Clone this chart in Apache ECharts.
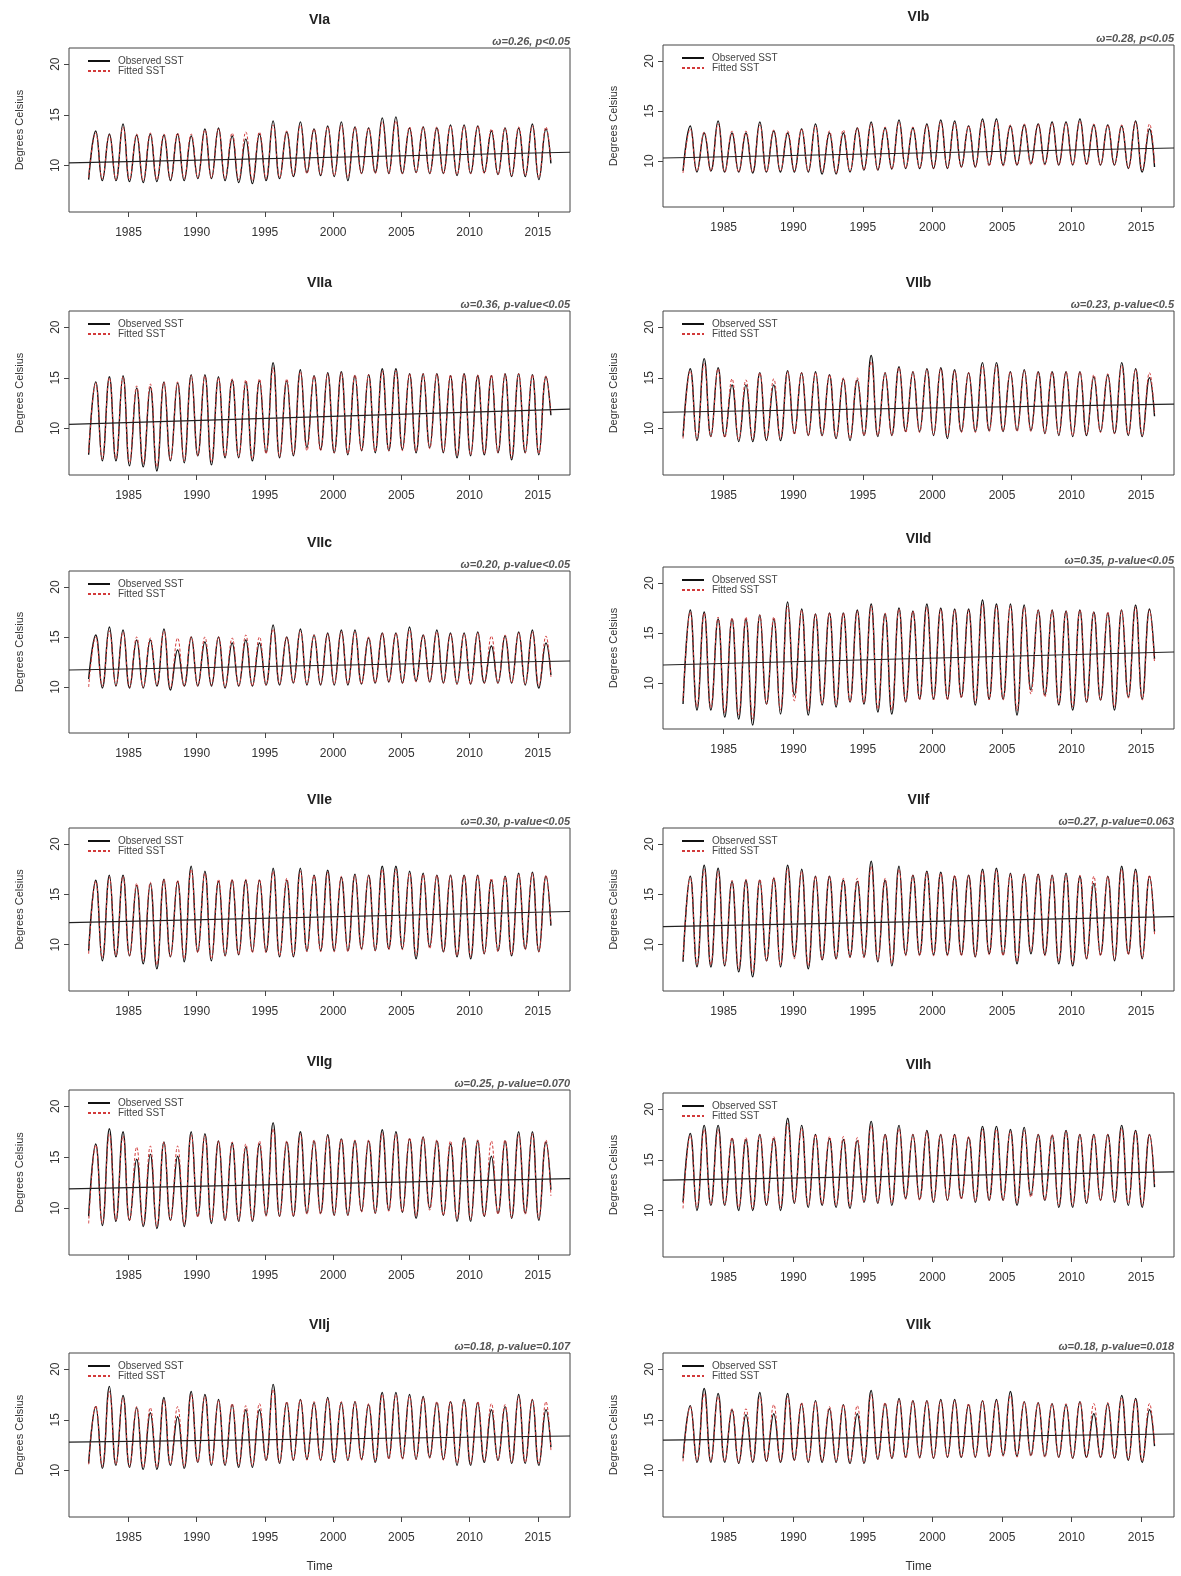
<!DOCTYPE html>
<html><head><meta charset="utf-8">
<script src="https://cdn.jsdelivr.net/npm/echarts@6/dist/echarts.min.js"></script>
<style>html,body{margin:0;padding:0;background:#fff}#c{width:1181px;height:1576px}</style>
</head><body><div id="c"></div>
<script>
// ---------- DATA ----------
const years = [1982,1983,1984,1985,1986,1987,1988,1989,1990,1991,1992,1993,1994,1995,1996,1997,1998,1999,2000,2001,2002,2003,2004,2005,2006,2007,2008,2009,2010,2011,2012,2013,2014,2015];
const xTickValues = [1985,1990,1995,2000,2005,2010,2015];
const yTickValues = [10,15,20];
const panelNames = ['VIa','VIb','VIIa','VIIb','VIIc','VIId','VIIe','VIIf','VIIg','VIIh','VIIj','VIIk'];
const annotations = ['ω=0.26, p<0.05','ω=0.28, p<0.05','ω=0.36, p-value<0.05','ω=0.23, p-value<0.5','ω=0.20, p-value<0.05','ω=0.35, p-value<0.05','ω=0.30, p-value<0.05','ω=0.27, p-value=0.063','ω=0.25, p-value=0.070','','ω=0.18, p-value=0.107','ω=0.18, p-value=0.018'];

// summer peaks / winter troughs per year, observed and fitted
const obsPeak_VIa = [13.4,13.1,14.1,13.0,13.1,13.0,13.1,12.9,13.6,13.7,12.9,12.6,13.1,14.4,13.3,14.3,13.6,13.9,14.3,13.8,13.7,14.7,14.8,13.7,13.8,13.7,14.0,14.0,13.9,13.4,13.7,13.7,14.1,13.6];
const obsTrough_VIa = [8.6,8.5,8.5,8.4,8.3,8.4,8.5,8.5,8.7,8.7,8.5,8.3,8.2,8.5,8.7,8.9,9.3,9.0,8.9,8.5,9.2,9.3,9.2,9.2,9.3,9.2,9.2,9.0,9.2,9.3,9.1,8.9,8.9,8.6];
const fitPeak_VIa = [13.2,13.0,13.8,13.1,13.2,13.1,13.2,13.1,13.5,13.6,13.2,13.3,13.3,14.0,13.4,14.0,13.6,13.8,14.0,13.8,13.7,14.3,14.4,13.8,13.8,13.8,13.9,13.9,13.9,13.6,13.7,13.8,13.9,13.8];
const fitTrough_VIa = [8.8,8.7,8.6,8.6,8.5,8.6,8.6,8.7,8.8,8.8,8.7,8.6,8.5,8.7,8.8,9.0,9.2,9.1,9.0,8.8,9.2,9.2,9.2,9.2,9.3,9.2,9.2,9.1,9.2,9.2,9.1,9.0,9.0,8.8];

const obsPeak_VIb = [13.5,12.8,14.0,12.8,12.8,13.9,13.0,12.8,13.2,13.7,12.8,12.8,13.3,13.9,13.3,14.1,13.3,13.7,14.1,14.0,13.5,14.2,14.2,13.5,13.6,13.7,13.9,13.9,14.2,13.6,13.6,13.5,14.0,13.2];
const obsTrough_VIb = [9.0,8.9,9.0,8.9,8.9,8.8,8.9,8.9,8.9,8.9,8.7,8.7,8.9,9.1,9.1,9.2,9.25,9.25,9.25,9.25,9.4,9.4,9.6,9.6,9.6,9.75,9.7,9.6,9.6,9.7,9.6,9.6,9.25,8.9];
const fitPeak_VIb = [13.2,12.9,13.7,13.0,13.0,13.6,13.1,13.0,13.2,13.5,13.0,13.1,13.3,13.7,13.4,13.9,13.4,13.6,13.9,13.8,13.5,14.0,14.0,13.6,13.7,13.7,13.8,13.8,14.0,13.7,13.6,13.6,13.9,13.7];
const fitTrough_VIb = [8.8,9.0,9.0,8.9,8.9,8.9,8.9,9.0,9.0,9.0,8.9,8.8,9.0,9.1,9.1,9.2,9.3,9.3,9.3,9.3,9.4,9.4,9.5,9.5,9.6,9.6,9.6,9.6,9.6,9.6,9.6,9.6,9.3,9.1];

const obsPeak_VIIa = [14.6,15.1,15.2,14.0,14.1,14.6,14.5,15.3,15.3,15.1,14.8,14.6,14.7,16.5,14.7,15.8,15.2,15.5,15.6,15.2,15.3,15.9,15.9,15.4,15.4,15.4,15.2,15.4,15.2,15.2,15.4,15.4,15.3,15.1];
const obsTrough_VIIa = [7.4,6.8,6.8,6.3,6.2,5.8,6.8,6.6,7.3,6.4,7.1,7.1,6.8,7.6,7.1,7.3,8.1,7.9,7.6,7.4,7.8,7.6,7.8,7.9,7.6,8.1,7.6,7.1,7.3,7.4,7.6,6.9,7.6,7.4];
const fitPeak_VIIa = [14.5,15.0,15.1,14.2,14.4,14.6,14.6,15.2,15.2,15.0,14.9,14.8,14.9,16.0,14.9,15.6,15.2,15.4,15.5,15.3,15.3,15.7,15.7,15.4,15.4,15.4,15.3,15.4,15.3,15.3,15.4,15.4,15.3,15.2];
const fitTrough_VIIa = [7.6,7.0,7.0,6.6,6.5,6.2,6.9,6.8,7.3,6.7,7.2,7.2,7.0,7.5,7.2,7.4,7.8,7.8,7.6,7.5,7.8,7.7,7.8,7.8,7.7,8.0,7.7,7.3,7.4,7.5,7.6,7.1,7.6,7.5];

const obsPeak_VIIb = [15.9,16.9,16.0,14.3,14.3,15.5,14.3,15.7,15.5,15.6,15.3,14.9,14.8,17.2,15.5,16.1,15.6,15.9,16.0,15.8,15.5,16.5,16.5,15.6,15.8,15.6,15.6,15.6,15.6,15.1,15.3,16.5,15.9,15.0];
const obsTrough_VIIb = [9.2,8.8,9.2,9.2,8.7,8.7,8.8,8.8,9.5,9.3,9.3,9.0,8.8,9.3,9.2,9.3,9.7,9.7,9.3,9.0,9.7,9.7,9.8,9.7,9.8,9.8,9.5,9.3,9.2,9.3,9.7,9.5,9.3,9.2];
const fitPeak_VIIb = [15.7,16.4,15.9,14.9,14.8,15.5,14.9,15.6,15.5,15.5,15.3,15.0,15.0,16.6,15.5,16.0,15.6,15.8,15.9,15.7,15.5,16.2,16.2,15.6,15.7,15.6,15.6,15.6,15.6,15.3,15.4,16.2,15.8,15.5];
const fitTrough_VIIb = [9.0,9.0,9.2,9.1,8.9,8.9,8.9,9.0,9.4,9.3,9.3,9.1,9.0,9.3,9.3,9.3,9.6,9.6,9.4,9.2,9.6,9.6,9.7,9.7,9.7,9.7,9.5,9.4,9.3,9.4,9.6,9.5,9.4,9.3];

const obsPeak_VIIc = [15.2,16.0,15.7,14.7,14.7,15.8,13.7,15.0,14.5,15.0,14.4,14.7,14.4,16.2,15.0,15.8,15.2,15.4,15.7,15.7,14.9,15.4,15.4,16.0,15.2,15.7,15.4,15.4,15.5,14.1,15.1,15.5,15.7,14.4];
const obsTrough_VIIc = [10.8,9.9,10.1,9.9,9.9,10.1,9.7,10.1,10.1,10.1,9.9,10.1,10.1,10.2,10.2,10.4,10.2,10.2,10.2,10.2,10.3,10.4,10.5,10.4,10.6,10.5,10.4,10.3,10.3,10.4,10.4,10.4,10.2,9.9];
const fitPeak_VIIc = [15.0,15.6,15.5,15.0,14.9,15.6,14.9,15.0,15.0,15.0,14.9,15.2,15.0,15.8,15.0,15.6,15.2,15.3,15.5,15.5,15.0,15.4,15.4,15.7,15.2,15.5,15.3,15.3,15.4,15.1,15.2,15.4,15.5,15.1];
const fitTrough_VIIc = [10.0,10.1,10.2,10.0,10.0,10.2,9.9,10.1,10.1,10.2,10.0,10.1,10.1,10.2,10.3,10.4,10.3,10.3,10.3,10.3,10.3,10.4,10.5,10.4,10.5,10.5,10.4,10.3,10.3,10.4,10.4,10.4,10.3,10.1];

const obsPeak_VIId = [17.3,17.1,16.4,16.4,16.4,16.8,16.4,18.1,17.4,16.9,17.0,17.0,17.3,17.9,16.9,17.5,17.2,17.9,17.5,17.4,17.4,18.3,17.9,17.9,17.8,17.3,17.3,17.2,17.3,17.1,17.0,17.3,17.8,17.4];
const obsTrough_VIId = [7.9,7.3,7.3,6.6,6.4,5.8,7.9,6.9,8.8,6.8,7.8,7.6,8.1,7.9,7.1,6.9,8.1,8.4,8.4,8.4,8.6,7.8,8.4,8.4,6.8,9.3,8.8,7.8,7.3,8.1,8.3,7.3,8.6,8.4];
const fitPeak_VIId = [17.1,17.0,16.6,16.5,16.6,16.8,16.6,17.7,17.3,16.9,17.0,17.0,17.2,17.7,17.0,17.4,17.2,17.6,17.4,17.3,17.3,17.9,17.7,17.7,17.6,17.3,17.3,17.2,17.3,17.1,17.1,17.3,17.6,17.3];
const fitTrough_VIId = [8.2,7.6,7.5,7.0,6.8,6.4,7.9,7.3,8.2,7.2,7.9,7.8,8.1,8.0,7.4,7.3,8.1,8.3,8.3,8.3,8.5,8.0,8.3,8.3,7.2,8.9,8.6,7.9,7.6,8.1,8.3,7.6,8.5,8.3];

const obsPeak_VIIe = [16.4,16.9,16.9,15.9,16.1,16.5,16.3,17.8,17.3,16.3,16.4,16.4,16.4,17.6,16.4,17.6,16.9,17.4,16.7,17.0,16.9,17.8,17.8,17.3,17.1,16.9,16.9,16.9,16.9,16.4,16.8,17.1,17.2,16.8];
const obsTrough_VIIe = [9.4,8.4,8.8,8.9,8.1,7.6,8.8,8.3,9.3,8.4,8.9,9.0,9.3,9.3,8.8,8.8,9.4,9.4,9.4,9.4,9.6,9.4,9.6,9.6,8.6,9.8,9.3,8.8,8.6,9.1,9.4,8.9,9.6,9.3];
const fitPeak_VIIe = [16.3,16.7,16.8,16.1,16.2,16.5,16.4,17.5,17.1,16.5,16.5,16.5,16.5,17.3,16.6,17.3,16.9,17.2,16.8,16.9,16.9,17.5,17.5,17.1,17.0,16.9,16.9,16.9,16.9,16.6,16.8,17.0,17.1,16.9];
const fitTrough_VIIe = [9.1,8.7,8.9,8.9,8.4,8.0,8.8,8.6,9.2,8.6,8.9,9.0,9.2,9.2,8.9,8.9,9.3,9.3,9.3,9.3,9.5,9.4,9.5,9.5,8.9,9.6,9.3,8.9,8.8,9.1,9.3,9.0,9.5,9.3];

const obsPeak_VIIf = [16.8,17.9,17.6,16.3,16.4,16.4,16.6,17.9,17.5,16.8,16.8,16.4,16.3,18.3,16.4,17.8,16.9,17.3,17.2,16.8,16.9,17.5,17.6,17.1,17.0,17.0,16.9,17.1,16.8,16.1,16.8,17.8,17.5,16.8];
const obsTrough_VIIf = [8.3,7.8,7.8,7.9,7.3,6.8,8.4,7.8,8.8,7.6,8.5,8.6,8.8,8.8,8.3,7.9,9.0,9.0,9.0,9.0,9.0,8.8,9.1,9.0,8.1,9.1,9.0,8.1,7.9,8.6,9.0,8.4,9.1,8.6];
const fitPeak_VIIf = [16.7,17.5,17.3,16.4,16.5,16.5,16.7,17.6,17.3,16.8,16.8,16.6,16.6,17.8,16.6,17.5,16.9,17.2,17.1,16.9,16.9,17.3,17.4,17.0,17.0,17.0,16.9,17.0,16.9,16.8,16.8,17.5,17.3,16.9];
const fitTrough_VIIf = [8.5,8.0,8.0,8.0,7.6,7.2,8.4,8.0,8.6,7.9,8.5,8.6,8.7,8.7,8.4,8.1,8.9,8.9,8.9,8.9,8.9,8.8,9.0,8.9,8.3,9.3,8.9,8.3,8.1,8.6,8.9,8.5,9.0,8.7];

const obsPeak_VIIg = [16.3,17.8,17.5,14.8,15.3,16.5,15.1,17.5,17.3,16.6,16.4,16.0,16.3,18.4,16.5,17.5,16.6,17.2,16.8,16.6,16.6,17.7,17.5,16.8,17.0,16.6,16.3,16.9,16.6,15.1,16.6,17.5,17.5,16.5];
const obsTrough_VIIg = [9.2,8.3,8.7,8.8,8.2,8.0,8.8,8.2,9.2,8.5,8.8,8.7,8.7,9.3,9.2,9.2,9.5,9.5,9.3,9.3,9.7,9.5,9.8,9.6,9.0,10.0,9.3,8.7,8.7,9.2,9.5,9.0,9.5,8.8];
const fitPeak_VIIg = [16.2,17.3,17.1,16.0,16.1,16.5,16.1,17.2,17.1,16.6,16.5,16.3,16.6,17.8,16.6,17.3,16.7,17.1,16.8,16.7,16.7,17.4,17.3,16.9,17.0,16.7,16.6,16.9,16.7,16.6,16.7,17.2,17.3,16.7];
const fitTrough_VIIg = [8.5,8.5,8.8,8.8,8.4,8.2,8.8,8.4,9.1,8.7,8.8,8.8,8.8,9.2,9.2,9.2,9.4,9.4,9.3,9.3,9.6,9.5,9.7,9.6,9.2,9.8,9.3,8.9,8.9,9.2,9.4,9.1,9.4,9.0];

const obsPeak_VIIh = [17.6,18.4,18.4,17.1,17.0,17.5,17.1,19.1,18.4,17.5,17.1,17.0,16.9,18.8,17.5,18.4,17.5,17.9,17.5,17.5,17.2,18.3,18.3,18.0,18.2,17.5,17.4,17.9,17.5,17.5,17.5,18.4,17.9,17.5];
const obsTrough_VIIh = [10.8,10.0,10.5,10.5,10.0,10.0,10.5,10.0,10.7,10.3,10.5,10.3,10.2,10.8,10.7,10.5,11.2,11.1,10.8,11.0,11.2,10.8,11.0,11.0,10.5,11.5,11.0,10.3,10.3,10.7,11.0,10.8,10.5,10.3];
const fitPeak_VIIh = [17.4,18.0,18.0,17.2,17.2,17.5,17.3,18.6,18.1,17.5,17.3,17.3,17.2,18.4,17.5,18.1,17.5,17.8,17.5,17.5,17.3,18.0,18.0,17.8,17.9,17.5,17.5,17.8,17.5,17.5,17.5,18.1,17.8,17.5];
const fitTrough_VIIh = [10.2,10.3,10.6,10.6,10.3,10.2,10.6,10.3,10.8,10.5,10.6,10.5,10.4,10.9,10.8,10.7,11.1,11.0,10.9,11.0,11.1,10.9,11.0,11.0,10.7,11.3,11.0,10.5,10.5,10.8,11.0,10.9,10.7,10.5];

const obsPeak_VIIj = [16.3,18.3,17.4,16.2,15.7,17.2,15.3,17.8,17.5,17.0,16.5,16.0,16.0,18.5,16.7,17.0,16.7,17.2,16.7,16.8,16.5,17.7,17.7,17.5,17.3,16.7,16.8,17.0,16.7,16.0,16.3,17.5,17.0,16.0];
const obsTrough_VIIj = [10.7,10.2,10.5,10.3,10.1,10.1,10.5,10.2,10.8,10.5,10.5,10.3,10.3,11.0,10.7,11.0,11.1,11.0,10.8,11.0,11.1,10.8,11.2,11.2,11.1,11.3,11.1,10.5,10.5,10.8,11.0,10.7,10.7,10.5];
const fitPeak_VIIj = [16.4,17.8,17.2,16.3,16.2,17.0,16.3,17.5,17.3,16.9,16.6,16.4,16.6,18.0,16.8,17.0,16.8,17.1,16.8,16.8,16.6,17.5,17.5,17.3,17.2,16.8,16.8,16.9,16.8,16.6,16.5,17.3,17.0,16.8];
const fitTrough_VIIj = [10.6,10.4,10.6,10.4,10.3,10.3,10.6,10.4,10.8,10.6,10.6,10.5,10.5,11.0,10.8,11.0,11.0,11.0,10.9,11.0,11.0,10.9,11.1,11.1,11.1,11.2,11.0,10.7,10.7,10.9,11.0,10.8,10.8,10.7];

const obsPeak_VIIk = [16.4,18.1,17.6,16.0,15.5,17.7,15.6,17.6,16.6,16.9,16.1,16.5,15.6,17.9,16.6,17.1,16.9,16.9,17.0,17.0,16.5,16.9,17.0,17.8,16.8,16.7,16.6,16.5,16.8,15.6,16.6,17.4,17.1,16.0];
const obsTrough_VIIk = [11.2,10.8,10.8,10.8,10.7,10.8,10.9,10.8,11.0,10.8,10.8,10.8,10.7,10.7,11.1,11.2,11.3,11.3,11.2,11.3,11.3,11.3,11.4,11.5,11.4,11.5,11.4,11.3,11.2,11.3,11.3,11.2,11.0,10.8];
const fitPeak_VIIk = [16.3,17.6,17.3,16.1,16.1,17.3,16.5,17.3,16.7,16.8,16.3,16.5,16.4,17.5,16.7,17.0,16.9,16.9,16.9,16.9,16.6,16.9,16.9,17.4,16.8,16.7,16.6,16.6,16.8,16.6,16.7,17.2,17.0,16.6];
const fitTrough_VIIk = [10.9,10.9,10.9,10.9,10.8,10.9,10.9,10.9,11.0,10.9,10.9,10.9,10.8,10.8,11.1,11.2,11.2,11.2,11.2,11.3,11.3,11.3,11.3,11.4,11.3,11.4,11.3,11.3,11.2,11.3,11.3,11.2,11.1,10.9];

// last monthly value (Dec 2015), observed / fitted
const obsLast = [10.2, 9.4, 11.3, 11.2, 11.2, 12.4, 11.9, 11.3, 11.8, 12.3, 12.3, 12.4];
const fitLast = [10.4, 9.6, 11.5, 11.5, 11.0, 12.0, 12.1, 11.0, 11.2, 12.6, 12.0, 12.6];
// linear trend values at the left and right edges of the plotting region
const trendStart = [10.26, 10.3, 10.4, 11.6, 11.7, 11.8, 12.2, 11.8, 11.9, 13.0, 12.8, 13.0];
const trendEnd   = [11.3, 11.3, 11.9, 12.4, 12.6, 13.1, 13.3, 12.8, 12.9, 13.8, 13.4, 13.6];

const obsPeaks = [obsPeak_VIa,obsPeak_VIb,obsPeak_VIIa,obsPeak_VIIb,obsPeak_VIIc,obsPeak_VIId,obsPeak_VIIe,obsPeak_VIIf,obsPeak_VIIg,obsPeak_VIIh,obsPeak_VIIj,obsPeak_VIIk];
const obsTroughs = [obsTrough_VIa,obsTrough_VIb,obsTrough_VIIa,obsTrough_VIIb,obsTrough_VIIc,obsTrough_VIId,obsTrough_VIIe,obsTrough_VIIf,obsTrough_VIIg,obsTrough_VIIh,obsTrough_VIIj,obsTrough_VIIk];
const fitPeaks = [fitPeak_VIa,fitPeak_VIb,fitPeak_VIIa,fitPeak_VIIb,fitPeak_VIIc,fitPeak_VIId,fitPeak_VIIe,fitPeak_VIIf,fitPeak_VIIg,fitPeak_VIIh,fitPeak_VIIj,fitPeak_VIIk];
const fitTroughs = [fitTrough_VIa,fitTrough_VIb,fitTrough_VIIa,fitTrough_VIIb,fitTrough_VIIc,fitTrough_VIId,fitTrough_VIIe,fitTrough_VIIf,fitTrough_VIIg,fitTrough_VIIh,fitTrough_VIIj,fitTrough_VIIk];

// ---------- LAYOUT ----------
const X_MIN = 1980.64, X_MAX = 2017.36, Y_MIN = 5.4, Y_MAX = 21.6;
const boxes = [
  [69, 48, 501, 164], [663, 45, 511, 162],
  [69, 311, 501, 164], [663, 311, 511, 164],
  [69, 571, 501, 162], [663, 567, 511, 162],
  [69, 828, 501, 163], [663, 828, 511, 163],
  [69, 1090, 501, 165], [663, 1093, 511, 164],
  [69, 1353, 501, 164], [663, 1353, 511, 164]
];
const W = 1181;
const FONT = 'Liberation Sans, Arial, sans-serif';
const TXT = '#333';

function wave(pk, tr, last) {
  const d = [];
  for (let i = 0; i < years.length; i++) {
    d.push([years[i] + 0.08, tr[i]]);
    d.push([years[i] + 0.6, pk[i]]);
  }
  d.push([2015.96, last]);
  return d;
}

const grid = [], xAxis = [], yAxis = [], series = [], title = [], legend = [];
boxes.forEach((b, i) => {
  const [L, T, Wd, H] = b;
  grid.push({left: L, top: T, width: Wd, height: H, show: true, borderColor: '#444', borderWidth: 1, backgroundColor: 'transparent'});
  const bottomRow = i >= 10;
  xAxis.push({
    type: 'value', gridIndex: i, min: X_MIN, max: X_MAX,
    axisLine: {show: false}, splitLine: {show: false},
    axisTick: {show: true, length: 5, inside: false, lineStyle: {color: '#444'}, customValues: xTickValues},
    axisLabel: {show: true, margin: 15, fontSize: 12, color: TXT, fontFamily: FONT, customValues: xTickValues, formatter: v => String(v)},
    name: bottomRow ? 'Time' : '', nameLocation: 'middle', nameGap: 44,
    nameTextStyle: {fontSize: 12, color: TXT, fontFamily: FONT}
  });
  yAxis.push({
    type: 'value', gridIndex: i, min: Y_MIN, max: Y_MAX,
    axisLine: {show: false}, splitLine: {show: false},
    axisTick: {show: true, length: 5, lineStyle: {color: '#444'}, customValues: yTickValues},
    axisLabel: {show: true, rotate: 90, margin: 7, fontSize: 12, color: TXT, fontFamily: FONT, customValues: yTickValues, formatter: v => String(v)},
    name: 'Degrees Celsius', nameLocation: 'middle', nameGap: 44, nameRotate: 90,
    nameTextStyle: {fontSize: 11, color: TXT, fontFamily: FONT}
  });
  title.push({text: panelNames[i], left: L + Wd / 2, top: T - 35, textAlign: 'center', padding: 0,
    textStyle: {fontSize: 14, fontWeight: 'bold', color: '#222', fontFamily: FONT}});
  if (annotations[i]) {
    title.push({text: annotations[i], right: W - (L + Wd), top: T - 12, padding: 0,
      textStyle: {fontSize: 11, fontStyle: 'italic', fontWeight: 'bold', color: '#555', fontFamily: FONT}});
  }
  legend.push({
    left: L + 18, top: T + 8, orient: 'vertical', itemGap: 0, itemWidth: 22, itemHeight: 11, padding: 0,
    data: ['Observed SST', 'Fitted SST'], selectedMode: false,
    itemStyle: {opacity: 0, borderWidth: 0},
    textStyle: {fontSize: 10, color: '#444', fontFamily: FONT, padding: [0, 0, 0, 3]}
  });
  series.push({
    name: 'Fitted SST', type: 'line', xAxisIndex: i, yAxisIndex: i, symbol: 'none', smooth: 0.45,
    data: wave(fitPeaks[i], fitTroughs[i], fitLast[i]),
    lineStyle: {color: '#d23a3a', width: 1, type: [3, 2]}, itemStyle: {color: '#d23a3a'}, z: 4, animation: false
  });
  series.push({
    name: 'Observed SST', type: 'line', xAxisIndex: i, yAxisIndex: i, symbol: 'none', smooth: 0.45,
    data: wave(obsPeaks[i], obsTroughs[i], obsLast[i]),
    lineStyle: {color: '#111', width: 1.4}, itemStyle: {color: '#111'}, z: 3, animation: false
  });
  series.push({
    name: 'Trend', type: 'line', xAxisIndex: i, yAxisIndex: i, symbol: 'none',
    data: [[X_MIN, trendStart[i]], [X_MAX, trendEnd[i]]],
    lineStyle: {color: '#222', width: 1.2}, z: 5, animation: false, silent: true
  });
});

const chart = echarts.init(document.getElementById('c'), null, {renderer: 'canvas'});
chart.setOption({backgroundColor: '#fff', animation: false, title, legend, grid, xAxis, yAxis, series});
</script></body></html>
